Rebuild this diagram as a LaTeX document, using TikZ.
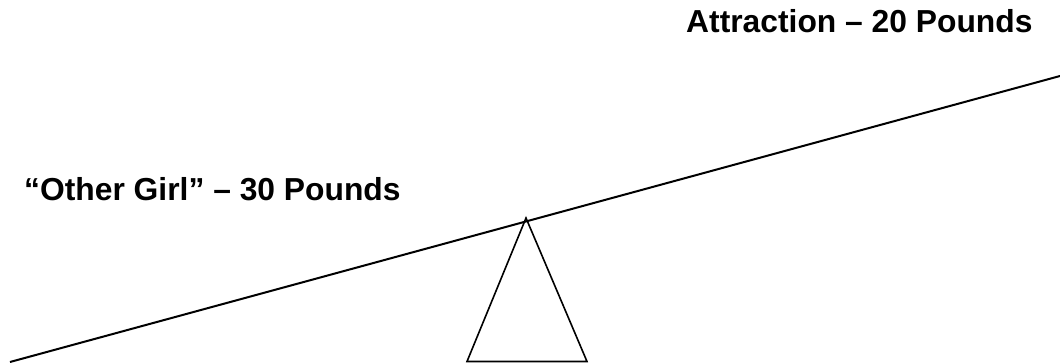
\documentclass[tikz,border=0pt]{standalone}
\usepackage{fontspec}
\setmainfont{Liberation Sans}
\tikzset{
  lbl/.style={font=\fontsize{31.8}{36}\selectfont\bfseries, inner sep=0pt, anchor=base west},
  beam/.style={line width=2pt, black},
  fulcrum/.style={line width=1.6pt, black, line join=miter}
}
\begin{document}
\begin{tikzpicture}[x=1pt,y=-1pt]
\useasboundingbox (0,0) rectangle (1060,364);
\coordinate (bl) at (10,362);
\coordinate (br) at (1060,76);
\draw[beam] (bl) -- (br);
\coordinate (apex) at (526,218);
\coordinate (baseL) at (467,361.5);
\coordinate (baseR) at (587,361.5);
\draw[fulcrum] (apex) -- (baseL) -- (baseR) -- cycle;
\node[lbl] (attr) at (686,32.5) {Attraction – 20 Pounds};
\node[lbl] (other) at (24,200) {“Other Girl” – 30 Pounds};
\end{tikzpicture}
\end{document}
